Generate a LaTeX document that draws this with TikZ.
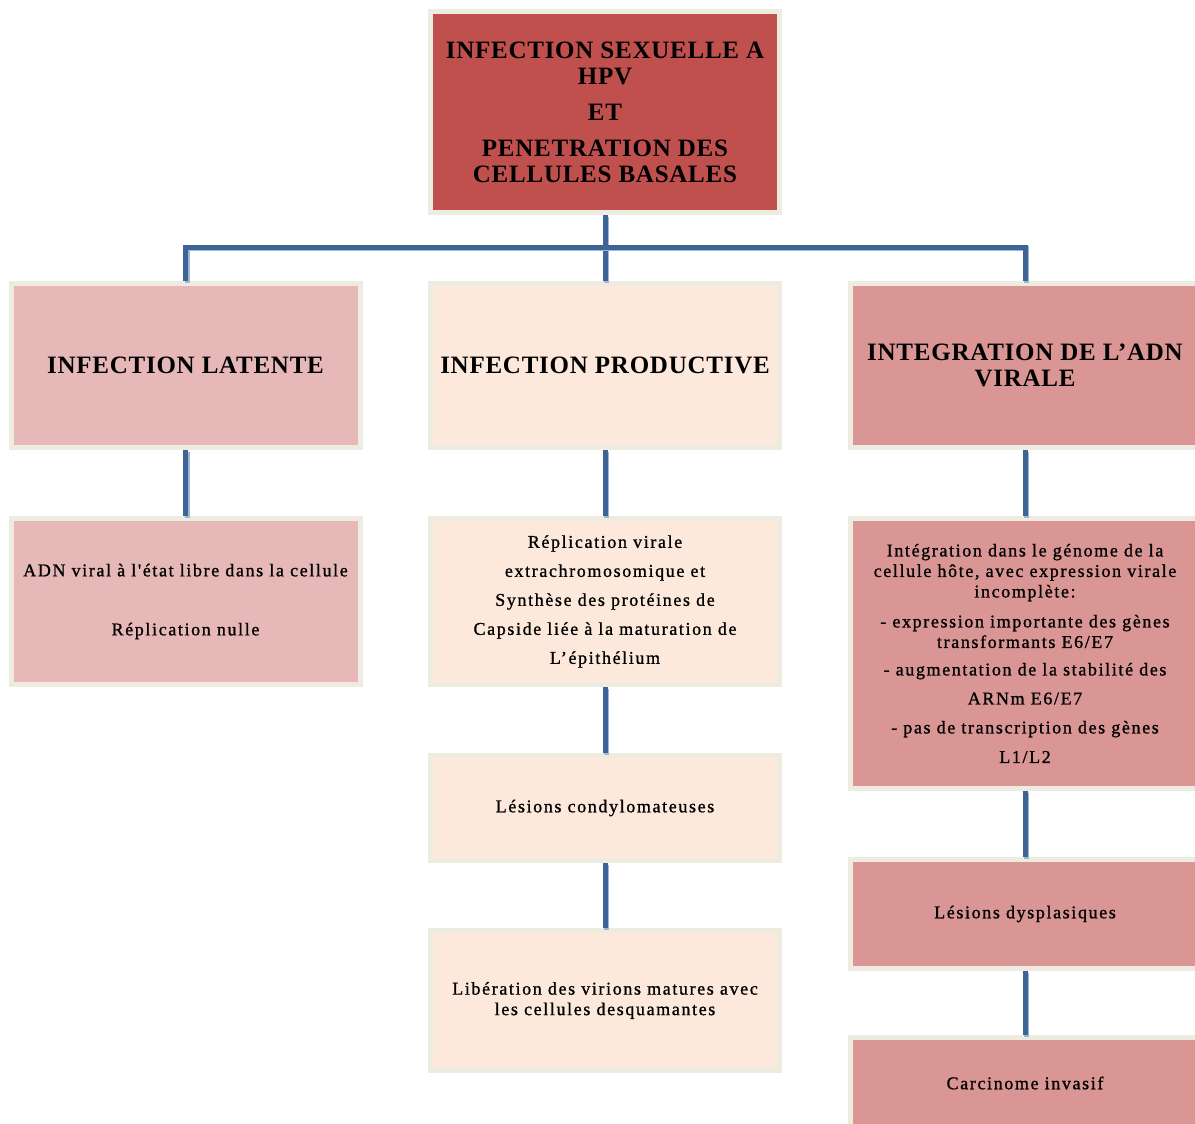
\documentclass[tikz,border=0pt]{standalone}
\usepackage{fontspec}
\setmainfont{Liberation Serif}
\newfontfamily\bodyfont[LetterSpace=9, FakeBold=1]{Liberation Serif}
\newfontfamily\headfont[LetterSpace=3]{Liberation Serif}
\definecolor{topred}{RGB}{192,80,77}
\definecolor{latpink}{RGB}{230,184,183}
\definecolor{prodpeach}{RGB}{252,233,219}
\definecolor{integrose}{RGB}{217,150,148}
\definecolor{rimbeige}{RGB}{238,236,225}
\definecolor{linkblue}{RGB}{62,100,150}
\definecolor{linkshade}{RGB}{160,183,212}

\begin{document}
\begin{tikzpicture}[x=1pt, y=-1pt,
    box/.style={draw=rimbeige, line width=5pt, minimum width=349pt, inner sep=0pt, align=center,
        font=\bodyfont\fontsize{18}{20.5}\selectfont},
    head/.style={box, font=\headfont\bfseries\fontsize{25}{26}\selectfont},
    link/.style={draw=linkblue, line width=5pt, line join=miter,
        preaction={draw=linkshade, line width=5pt, transform canvas={shift={(1.5pt,-1.5pt)}}}}]
    \clip (0,0) rectangle (1195,1124);
    \node[head, fill=topred, minimum height=201pt] (hpv) at (605,112)
        {INFECTION SEXUELLE A\\HPV\\[10pt]ET\\[10pt]PENETRATION DES\\CELLULES BASALES};
    \node[head, fill=latpink, minimum height=164pt] (lat) at (185.5,365.5) {INFECTION LATENTE};
    \node[head, fill=prodpeach, minimum height=164pt] (prod) at (605,365.5) {INFECTION PRODUCTIVE};
    \node[head, fill=integrose, minimum height=164pt] (integ) at (1025,365.5) {INTEGRATION DE L’ADN\\VIRALE};
    \node[box, fill=latpink, minimum height=166pt] (latinfo) at (185.5,601.5)
        {ADN viral à l'état libre dans la cellule\\[38.5pt]Réplication nulle};
    \node[box, fill=prodpeach, minimum height=166pt, font=\bodyfont\fontsize{18}{29}\selectfont] (prodinfo) at (605,601.5)
        {Réplication virale\\extrachromosomique et\\Synthèse des protéines de\\Capside liée à la maturation de\\L’épithélium};
    \node[box, fill=integrose, minimum height=270pt] (integinfo) at (1025,653.5)
        {Intégration dans le génome de la\\cellule hôte, avec expression virale\\incomplète:\\[9.5pt]
         - expression importante des gènes\\transformants E6/E7\\[7pt]
         - augmentation de la stabilité des\\[8.5pt]ARNm E6/E7\\[8.5pt]
         - pas de transcription des gènes\\[9pt]L1/L2};
    \node[box, fill=prodpeach, minimum height=105pt] (condylo) at (605,808) {Lésions condylomateuses};
    \node[box, fill=prodpeach, minimum height=140pt] (virions) at (605,1000.5)
        {Libération des virions matures avec\\les cellules desquamantes};
    \node[box, fill=integrose, minimum height=109pt] (dysplasie) at (1025,914) {Lésions dysplasiques};
    \node[box, fill=integrose, minimum height=91pt] (carcinome) at (1025,1083) {Carcinome invasif};
    \coordinate (hub) at (605,247);
    \draw[link] (hpv) -- (prod);
    \draw[link] (lat) |- (hub) -| (integ);
    \draw[link] (lat) -- (latinfo);
    \draw[link] (prod) -- (prodinfo);
    \draw[link] (prodinfo) -- (condylo);
    \draw[link] (condylo) -- (virions);
    \draw[link] (integ) -- (integinfo);
    \draw[link] (integinfo) -- (dysplasie);
    \draw[link] (dysplasie) -- (carcinome);
\end{tikzpicture}
\end{document}
